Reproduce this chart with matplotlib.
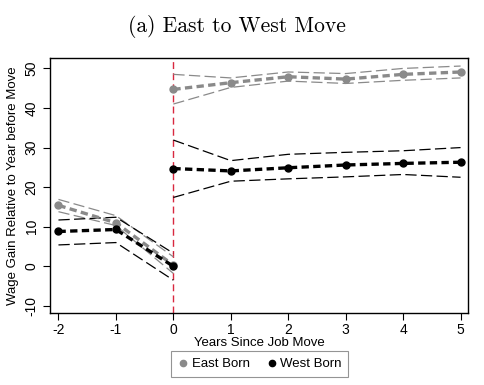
import matplotlib
matplotlib.use("Agg")
import matplotlib.pyplot as plt
from matplotlib.lines import Line2D

# Daten
years_pre = [-2, -1, 0]
years_post = [0, 1, 2, 3, 4, 5]

east_pre = [15.4, 11.0, 0.3]
east_pre_hi = [16.9, 12.8, 2.4]
east_pre_lo = [13.8, 10.3, -1.8]
east_post = [44.7, 46.4, 47.9, 47.3, 48.5, 49.1]
east_post_hi = [48.5, 47.6, 49.1, 48.7, 50.0, 50.6]
east_post_lo = [41.0, 45.2, 46.8, 46.2, 47.0, 47.6]

west_pre = [8.8, 9.3, 0.0]
west_pre_hi = [11.7, 12.4, 3.3]
west_pre_lo = [5.4, 6.0, -3.5]
west_post = [24.7, 24.1, 24.9, 25.6, 26.0, 26.3]
west_post_hi = [31.9, 26.7, 28.3, 28.8, 29.2, 30.0]
west_post_lo = [17.4, 21.5, 22.1, 22.6, 23.2, 22.5]

xticks = [-2, -1, 0, 1, 2, 3, 4, 5]
yticks = [-10, 0, 10, 20, 30, 40, 50]

plt.rcParams["font.family"] = ["Liberation Sans", "DejaVu Sans"]
plt.rcParams["axes.unicode_minus"] = False

gray = "#8a8a8a"
black = "#000000"

fig = plt.figure(figsize=(4.84, 3.85), dpi=100)
ax = fig.add_axes([0.103, 0.187, 0.864, 0.662])

ax.axvline(0, color="#d8283f", lw=1.0, ls=(0, (5, 3)), zorder=1)

# Konfidenzbänder
for xs, ys, c in [
    (years_pre, east_pre_hi, gray), (years_pre, east_pre_lo, gray),
    (years_post, east_post_hi, gray), (years_post, east_post_lo, gray),
    (years_pre, west_pre_hi, black), (years_pre, west_pre_lo, black),
    (years_post, west_post_hi, black), (years_post, west_post_lo, black),
]:
    ax.plot(xs, ys, color=c, lw=0.9, ls=(0, (9, 3.5)), zorder=2)

# Punktschätzer
for xs, ys, c in [
    (years_pre, east_pre, gray), (years_post, east_post, gray),
    (years_pre, west_pre, black), (years_post, west_post, black),
]:
    ax.plot(xs, ys, color=c, lw=2.4, ls=(0, (2.2, 1.3)), marker="o",
            markersize=5, zorder=3)

ax.set_xlim(-2.15, 5.13)
ax.set_ylim(-11.8, 52.6)
ax.set_xticks(xticks)
ax.set_yticks(yticks)
ax.tick_params(axis="y", labelrotation=90, labelsize=10, length=5, width=0.8, pad=3)
ax.tick_params(axis="x", labelsize=10, length=5, width=0.8, pad=2)
for lab in ax.get_yticklabels():
    lab.set_va("center")
for s in ax.spines.values():
    s.set_linewidth(1.0)

ax.set_xlabel("Years Since Job Move", fontsize=9.5, labelpad=0)
ax.set_ylabel("Wage Gain Relative to Year before Move", fontsize=9.5, labelpad=4)

handles = [
    Line2D([], [], color=gray, marker="o", ls="none", markersize=4.5),
    Line2D([], [], color=black, marker="o", ls="none", markersize=4.5),
]
leg = fig.legend(handles, ["East Born", "West Born"], loc="center",
                 bbox_to_anchor=(0.536, 0.054), ncol=2, fontsize=9.5,
                 frameon=True, fancybox=False, edgecolor="#7a7a7a",
                 handletextpad=0.2, columnspacing=1.2, handlelength=0.9,
                 borderpad=0.5)
leg.get_frame().set_linewidth(0.8)

fig.text(0.49, 0.93, "(a) East to West Move", family="cmr10",
         fontsize=15.5, ha="center", va="center")

fig.savefig("out.png", dpi=100)
